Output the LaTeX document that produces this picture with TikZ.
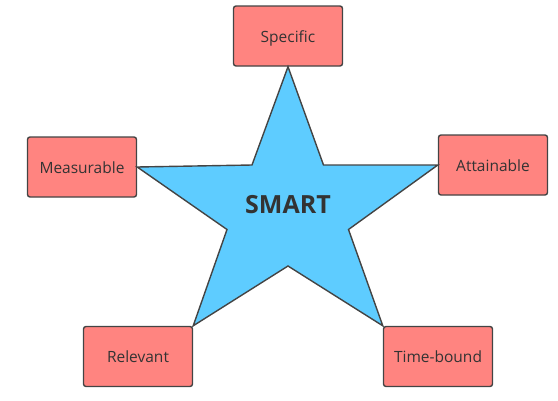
\documentclass[tikz,border=0pt]{standalone}
\usepackage{fontspec}
\setmainfont{Open Sans}
\definecolor{boxfill}{HTML}{FF8480}
\definecolor{edge}{HTML}{444444}
\definecolor{starfill}{HTML}{5ECCFF}
\definecolor{txt}{HTML}{333333}
\begin{document}
\begin{tikzpicture}[x=1pt,y=-1pt,
  goal/.style={draw=edge,fill=boxfill,line width=1.4pt,rounded corners=2.5pt,
    minimum width=109pt,minimum height=60pt,inner sep=0pt,
    font=\fontsize{15.5}{18}\selectfont,text=txt,
    text height=13.5pt,text depth=1pt},
  starshape/.style={draw=edge,fill=starfill,line width=1.4pt,line join=miter}]
\useasboundingbox (0,0) rectangle (558,400);
\node[goal] (spec) at (288,36) {Specific};
\node[goal] (meas) at (82,167) {Measurable};
\node[goal] (att) at (493,165) {Attainable};
\node[goal] (rel) at (138,356.5) {Relevant};
\node[goal] (time) at (438,356.5) {Time-bound};
\coordinate (i1) at (252,165);
\coordinate (i2) at (323.5,165);
\coordinate (i3) at (348.5,229.5);
\coordinate (i4) at (288,266);
\coordinate (i5) at (227,229.5);
\draw[starshape] (spec.south) -- (i2) -- (att.west) -- (i3) -- (time.north west)
  -- (i4) -- (rel.north east) -- (i5) -- (meas.east) -- (i1) -- cycle;
\node[font=\fontsize{25}{28}\selectfont\bfseries,text=txt] (smart) at (288,205) {SMART};
\end{tikzpicture}
\end{document}
